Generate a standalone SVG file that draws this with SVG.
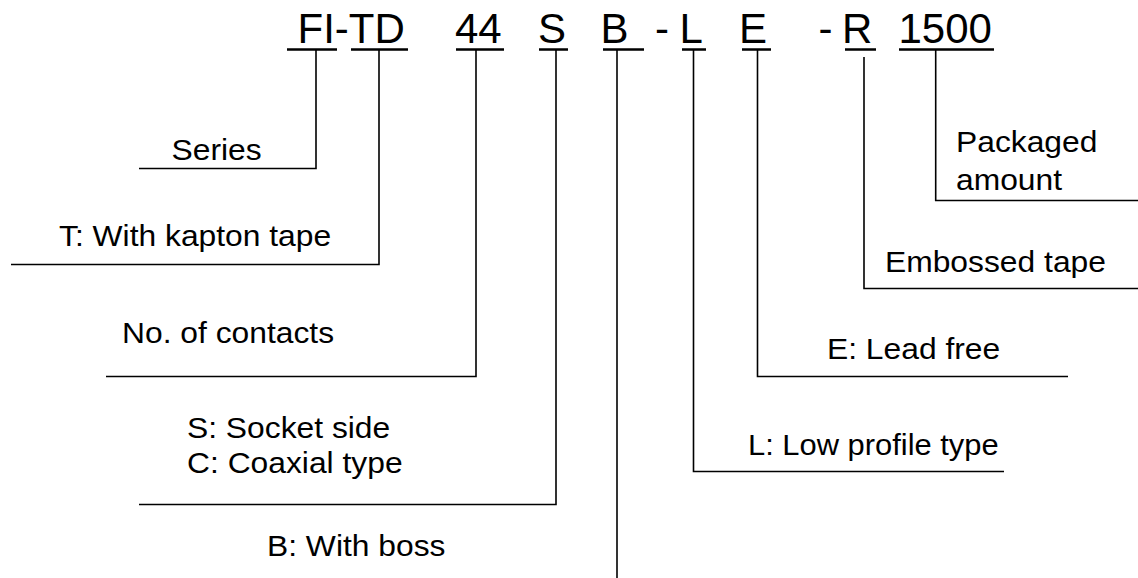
<svg xmlns="http://www.w3.org/2000/svg" width="1138" height="578" viewBox="0 0 1138 578">
<style>
.t{font-family:"Liberation Sans",Arial,sans-serif;font-size:42px;fill:#000}
.l{font-family:"Liberation Sans",Arial,sans-serif;font-size:30px;fill:#000}
.u{stroke:#000;stroke-width:2.4;fill:none}
.c{stroke:#000;stroke-width:1.6;fill:none}
</style>
<rect width="1138" height="578" fill="#fff"/>
<g id="title">
<text class="t" x="297.5" y="43">FI-TD</text>
<text class="t" x="455" y="43">44</text>
<text class="t" x="538" y="43">S</text>
<text class="t" x="600.5" y="43">B</text>
<text class="t" x="655" y="43">-</text>
<text class="t" x="679.5" y="43">L</text>
<text class="t" x="739" y="43">E</text>
<text class="t" x="818.5" y="43">-</text>
<text class="t" x="842" y="43">R</text>
<text class="t" x="898.5" y="43">1500</text>
<path class="u" d="M287,49.5H337M351,49.5H408M456,49.5H504M539,49.5H568M603,49.5H644M682,49.5H706M742,49.5H771M845,49.5H876M899,49.5H994"/>
</g>
<g id="connectors">
<path class="c" d="M316,50V168.5H139"/>
<path class="c" d="M379,50V264.5H11"/>
<path class="c" d="M476,50V376.5H106"/>
<path class="c" d="M556,50V504.5H139"/>
<path class="c" d="M617,50V578"/>
<path class="c" d="M693.5,50V471.5H1004"/>
<path class="c" d="M757.5,50V376.5H1068"/>
<path class="c" d="M864,57V288.5H1138"/>
<path class="c" d="M935.7,50V200.5H1138"/>
</g>
<g id="series" transform="translate(171.5,160) scale(1.06,1)"><text class="l">Series</text></g>
<g id="kapton" transform="translate(59,246) scale(1.06,1)"><text class="l">T: With kapton tape</text></g>
<g id="contacts" transform="translate(122,343) scale(1.06,1)"><text class="l">No. of contacts</text></g>
<g id="socket" transform="translate(187,0) scale(1.06,1)"><text class="l" y="438">S: Socket side</text><text class="l" y="473">C: Coaxial type</text></g>
<g id="boss" transform="translate(267,556) scale(1.06,1)"><text class="l">B: With boss</text></g>
<g id="lowprofile" transform="translate(748,455) scale(1.03,1)"><text class="l">L: Low profile type</text></g>
<g id="leadfree" transform="translate(827,359) scale(1.06,1)"><text class="l">E: Lead free</text></g>
<g id="embossed" transform="translate(885,272) scale(1.06,1)"><text class="l">Embossed tape</text></g>
<g id="packaged" transform="translate(956,0) scale(1.06,1)"><text class="l" y="152">Packaged</text><text class="l" y="190">amount</text></g>
</svg>
